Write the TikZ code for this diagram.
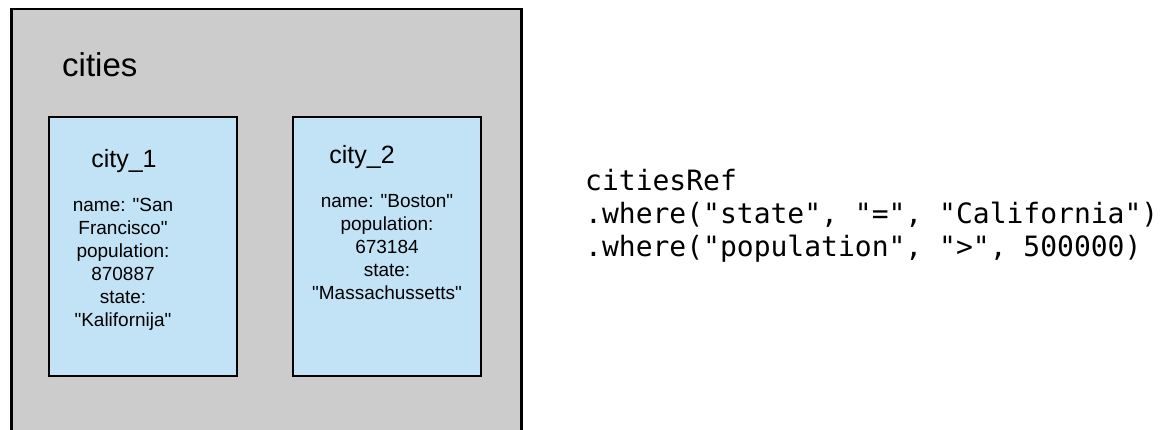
\documentclass[tikz,border=0pt]{standalone}
\usepackage{fontspec}
\setmainfont{Liberation Sans}[Ligatures=TeXOff]
\setmonofont{DejaVu Sans Mono}
\usepackage{tikz}

\definecolor{collgray}{HTML}{CCCCCC}
\definecolor{docblue}{HTML}{C2E3F5}

\begin{document}
\begin{tikzpicture}[x=1pt, y=-1pt,
  coll/.style={draw, line width=2.5pt, fill=collgray, minimum width=510pt, minimum height=470pt, inner sep=0pt, anchor=north west},
  doc/.style={draw, line width=2.5pt, fill=docblue, minimum width=188pt, minimum height=259pt, inner sep=0pt},
  titulo/.style={inner sep=0pt, font=\fontsize{25}{30}\selectfont},
  campos/.style={inner sep=0pt, align=center, font=\fontsize{19}{23}\selectfont},
  codigo/.style={inner sep=0pt, align=left, anchor=west, font=\ttfamily\fontsize{28}{33}\selectfont}]
\clip (0,0) rectangle (1164,430);
\fill[white] (0,0) rectangle (1164,430);
\node[coll] (cities) at (10,8) {};
\node[inner sep=0pt, anchor=base west, font=\fontsize{33}{40}\selectfont] (citieslbl) at (62,77) {cities};
\node[doc] (city1) at (143,246.5) {};
\node[doc] (city2) at (387,246.5) {};
\node[titulo] (city1lbl) at (124,161) {city\_1};
\node[titulo] (city2lbl) at (362,157) {city\_2};
\node[campos] (city1data) at (123,264.5) {name: "San\\ Francisco"\\ population:\\ 870887\\ state:\\ "Kalifornija"};
\node[campos] (city2data) at (387,247) {name: "Boston"\\ population:\\ 673184\\ state:\\ "Massachussetts"};
\node[codigo] (query) at (585,216) {citiesRef\\ .where("state", "=", "California")\\ .where("population", ">", 500000)};
\end{tikzpicture}
\end{document}
